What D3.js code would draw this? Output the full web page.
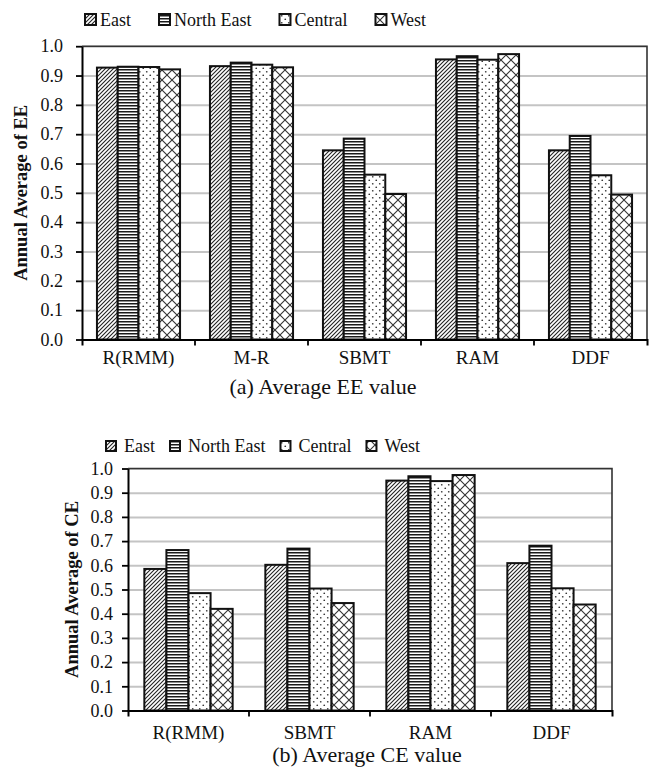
<!DOCTYPE html>
<html>
<head>
<meta charset="utf-8">
<script src="https://cdn.jsdelivr.net/npm/d3@7"></script>
<style>
  body { margin: 0; background: #fff; }
  svg { display: block; }
</style>
</head>
<body>
<svg id="fig" width="651" height="769"></svg>
<script>
// ---- data ----
const regions = ["East", "North East", "Central", "West"];
const yTicks = [0, 0.1, 0.2, 0.3, 0.4, 0.5, 0.6, 0.7, 0.8, 0.9, 1.0];

// (a) annual average EE
const eeMethods = ["R(RMM)", "M-R", "SBMT", "RAM", "DDF"];
const eeEast      = [0.927, 0.932, 0.645, 0.955, 0.645];
const eeNorthEast = [0.930, 0.944, 0.685, 0.966, 0.694];
const eeCentral   = [0.929, 0.937, 0.562, 0.954, 0.560];
const eeWest      = [0.921, 0.928, 0.496, 0.973, 0.494];

// (b) annual average CE
const ceMethods = ["R(RMM)", "SBMT", "RAM", "DDF"];
const ceEast      = [0.585, 0.602, 0.950, 0.609];
const ceNorthEast = [0.663, 0.669, 0.968, 0.681];
const ceCentral   = [0.485, 0.504, 0.948, 0.505];
const ceWest      = [0.420, 0.444, 0.973, 0.438];

// ---- setup ----
const FONT = "'Liberation Serif','Times New Roman',serif";
const svg = d3.select("#fig");
const defs = svg.append("defs");

function makePattern(id, w, h, draw) {
  const p = defs.append("pattern")
    .attr("id", id)
    .attr("patternUnits", "userSpaceOnUse")
    .attr("width", w).attr("height", h);
  p.append("rect").attr("width", w).attr("height", h).attr("fill", "#fff");
  draw(p);
}
// East: upward diagonal hatch
makePattern("pat-east", 4, 4, p => p.append("path")
  .attr("d", "M-1,1 L1,-1 M0,4 L4,0 M3,5 L5,3")
  .attr("stroke", "#222").attr("stroke-width", 1.1));
// North East: dense horizontal lines
makePattern("pat-ne", 4, 3, p => p.append("rect")
  .attr("x", 0).attr("y", 0).attr("width", 4).attr("height", 1.5)
  .attr("fill", "#1a1a1a"));
// Central: staggered dots
makePattern("pat-central", 7, 7, p => {
  p.append("circle").attr("cx", 1.75).attr("cy", 1.75).attr("r", 0.85).attr("fill", "#333");
  p.append("circle").attr("cx", 5.25).attr("cy", 5.25).attr("r", 0.85).attr("fill", "#333");
});
// West: diagonal cross
makePattern("pat-west", 10, 10, p => p.append("path")
  .attr("d", "M0,0 L10,10 M10,0 L0,10")
  .attr("stroke", "#333").attr("stroke-width", 1.1));

const fills = d3.scaleOrdinal()
  .domain(regions)
  .range(["url(#pat-east)", "url(#pat-ne)", "url(#pat-central)", "url(#pat-west)"]);

function drawChart(cfg) {
  const g = svg.append("g");
  const { left, right, top, bottom } = cfg;

  const x0 = d3.scaleBand().domain(cfg.methods).range([left, right]);
  const x1 = d3.scaleBand().domain(regions).range([0, x0.bandwidth()]).paddingOuter(cfg.outer);
  const y = d3.scaleLinear().domain([0, 1]).range([bottom, top]);

  // horizontal gridlines
  g.append("g")
    .attr("transform", `translate(${left},0)`)
    .call(d3.axisLeft(y).tickValues(yTicks).tickSize(-(right - left)).tickFormat(""))
    .call(s => s.select(".domain").remove())
    .selectAll("line")
    .attr("stroke", "#c4c4c4").attr("stroke-width", 2);

  // bars
  const rows = cfg.methods.map((m, i) => ({
    method: m,
    values: regions.map((r, k) => ({ region: r, value: cfg.series[k][i] }))
  }));
  g.append("g").selectAll("g")
    .data(rows).join("g")
    .attr("transform", d => `translate(${x0(d.method)},0)`)
    .selectAll("rect")
    .data(d => d.values).join("rect")
    .attr("x", d => x1(d.region))
    .attr("width", x1.bandwidth())
    .attr("y", d => y(d.value))
    .attr("height", d => y(0) - y(d.value))
    .attr("fill", d => fills(d.region))
    .attr("stroke", "#111").attr("stroke-width", 2);

  // plot area frame (top and right)
  g.append("path")
    .attr("d", `M${left},${y(1)} H${right} V${y(0)}`)
    .attr("fill", "none").attr("stroke", "#333").attr("stroke-width", 1.6);

  // y axis
  const ya = g.append("g")
    .attr("transform", `translate(${left},0)`)
    .call(d3.axisLeft(y).tickValues(yTicks).tickFormat(d3.format(".1f"))
      .tickSize(6).tickSizeOuter(0).tickPadding(cfg.yPad));
  ya.select(".domain").attr("stroke", "#000").attr("stroke-width", 2);
  ya.selectAll(".tick line").attr("stroke", "#000").attr("stroke-width", 1.8);
  ya.selectAll("text").attr("font-family", FONT).attr("font-size", 18).attr("fill", "#111");

  // x axis: labels centred in bands, ticks at band boundaries
  const xa = g.append("g")
    .attr("transform", `translate(0,${bottom})`)
    .call(d3.axisBottom(x0).tickSize(0).tickSizeOuter(6).tickPadding(cfg.xPad));
  xa.select(".domain").attr("stroke", "#000").attr("stroke-width", 2);
  xa.selectAll("text").attr("font-family", FONT).attr("font-size", 19).attr("fill", "#111");
  xa.selectAll(".sep").data(cfg.methods.slice(1)).join("line")
    .attr("class", "sep")
    .attr("x1", d => x0(d)).attr("x2", d => x0(d))
    .attr("y1", 0).attr("y2", 6)
    .attr("stroke", "#000").attr("stroke-width", 1.8);

  // y axis title
  g.append("text")
    .attr("transform", `translate(${cfg.titleX},${(top + bottom) / 2}) rotate(-90)`)
    .attr("text-anchor", "middle")
    .attr("font-family", FONT).attr("font-weight", "bold").attr("font-size", 18.5)
    .attr("fill", "#111")
    .text(cfg.yTitle);

  // legend
  const lg = g.append("g");
  let lx = cfg.legendX;
  regions.forEach(r => {
    const m = cfg.markerSize;
    lg.append("rect")
      .attr("x", lx).attr("y", cfg.legendY - m - 0.5)
      .attr("width", m).attr("height", m)
      .attr("fill", fills(r)).attr("stroke", "#111").attr("stroke-width", 2);
    const t = lg.append("text")
      .attr("x", lx + cfg.textOffset).attr("y", cfg.legendY)
      .attr("font-family", FONT).attr("font-size", 18).attr("fill", "#111")
      .text(r);
    lx += cfg.textOffset + t.node().getComputedTextLength() + cfg.itemGap;
  });

  // caption
  g.append("text")
    .attr("x", cfg.captionX).attr("y", cfg.captionY)
    .attr("text-anchor", "middle")
    .attr("font-family", FONT).attr("font-size", 22).attr("fill", "#111")
    .text(cfg.caption);
}

drawChart({
  methods: eeMethods,
  series: [eeEast, eeNorthEast, eeCentral, eeWest],
  left: 82, right: 647, top: 46.2, bottom: 339.5,
  outer: 0.72, yPad: 13, xPad: 11,
  titleX: 27, yTitle: "Annual Average of EE",
  legendX: 85, legendY: 25.5, markerSize: 11, textOffset: 15, itemGap: 28,
  captionX: 323, captionY: 394, caption: "(a) Average EE value"
});

drawChart({
  methods: ceMethods,
  series: [ceEast, ceNorthEast, ceCentral, ceWest],
  left: 128, right: 612, top: 468.5, bottom: 710.5,
  outer: 0.74, yPad: 9, xPad: 15.5,
  titleX: 78, yTitle: "Annual Average of CE",
  legendX: 106, legendY: 451.5, markerSize: 10, textOffset: 18, itemGap: 15,
  captionX: 367, captionY: 762, caption: "(b) Average CE value"
});
</script>
</body>
</html>
